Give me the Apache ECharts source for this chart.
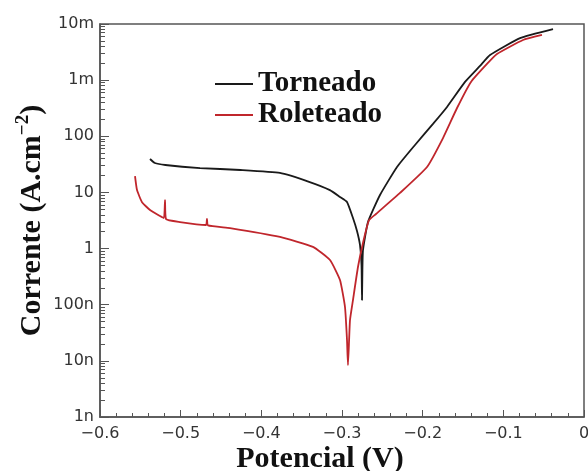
<!DOCTYPE html>
<html>
<head>
<meta charset="utf-8">
<script src="https://cdn.jsdelivr.net/npm/echarts@6/dist/echarts.min.js"></script>
<style>
  html, body { margin: 0; padding: 0; background: #fff; }
  #chart { width: 588px; height: 471px; }
</style>
</head>
<body>
<div id="chart"></div>
<script>
// potencial (V) e corrente (A.cm-2)
var torneadoV = [-0.538, -0.532, -0.519, -0.476, -0.426, -0.377, -0.340, -0.315, -0.3025, -0.2938, -0.2864, -0.2814,
    -0.2777, -0.2758, -0.2752, -0.2747, -0.274, -0.2678, -0.2529, -0.2318, -0.2095, -0.1872, -0.1698, -0.1475,
    -0.1289, -0.1165, -0.0793, -0.0384];
var torneadoI = [3.94e-5, 3.34e-5, 3.08e-5, 2.72e-5, 2.51e-5, 2.22e-5, 1.53e-5, 1.10e-5, 8.3e-6, 6.75e-6, 3.5e-6, 2.06e-6,
    1.16e-6, 5.1e-7, 1.21e-7, 4.15e-7, 9.4e-7, 2.97e-6, 9.0e-6, 2.84e-5, 7.0e-5, 1.66e-4, 3.33e-4, 9.3e-4,
    1.79e-3, 2.8e-3, 5.6e-3, 8.1e-3];

var roleteadoV = [-0.5566, -0.5541, -0.5479, -0.538, -0.5256, -0.5207, -0.5194, -0.5182, -0.5008, -0.4686, -0.4674,
    -0.4661, -0.4388, -0.3769, -0.336, -0.3149, -0.3025, -0.2963, -0.2938, -0.2926, -0.2901, -0.2864, -0.2802,
    -0.274, -0.2665, -0.2579, -0.2281, -0.1946, -0.1748, -0.1574, -0.1401, -0.1203, -0.1079, -0.0756, -0.0521];
var roleteadoI = [1.96e-5, 1.10e-5, 6.7e-6, 4.86e-6, 3.8e-6, 3.5e-6, 7.3e-6, 3.36e-6, 2.97e-6, 2.63e-6, 3.36e-6,
    2.58e-6, 2.32e-6, 1.61e-6, 1.07e-6, 6.25e-7, 2.75e-7, 9.1e-8, 2.35e-8, 8.4e-9, 5.3e-8, 1.21e-7, 4.7e-7,
    1.26e-6, 3.2e-6, 4.13e-6, 9.8e-6, 2.84e-5, 9.3e-5, 3.19e-4, 9.3e-4, 1.94e-3, 2.92e-3, 5.19e-3, 6.37e-3];

var seriesNames = ['Torneado', 'Roleteado'];
// rótulos do eixo y, de 1e-9 a 1e-2
var yTickLabels = ['1n', '10n', '100n', '1', '10', '100', '1m', '10m'];

var serif = 'Liberation Serif';
var sans = 'DejaVu Sans';

function toPoints(vs, is) {
    return vs.map(function (v, k) { return [v, Math.log10(is[k])]; });
}

// marcas menores do eixo log (2..9 em cada década)
var minorTicks = [];
for (var d = -9; d < -2; d++) {
    for (var m = 2; m <= 9; m++) minorTicks.push(d + Math.log10(m));
}

var chart = echarts.init(document.getElementById('chart'));
chart.setOption({
    animation: false,
    backgroundColor: '#fff',
    grid: {
        left: 100, right: 4, top: 24, bottom: 54,
        outerBoundsMode: 'none',
        show: true, borderColor: '#555', borderWidth: 1.5
    },
    legend: {
        data: seriesNames,
        orient: 'vertical',
        left: 210, top: 64,
        icon: 'rect',
        itemWidth: 38, itemHeight: 2,
        itemGap: 1,
        textStyle: { fontFamily: serif, fontWeight: 'bold', fontSize: 29, color: '#111', lineHeight: 30 }
    },
    xAxis: {
        type: 'value',
        min: -0.6, max: 0, interval: 0.1,
        name: 'Potencial (V)',
        nameLocation: 'middle',
        nameMoveOverlap: false,
        nameGap: 27,
        nameTextStyle: { fontFamily: serif, fontWeight: 'bold', fontSize: 30, color: '#111', padding: [0, 44, 0, 0] },
        axisLine: { onZero: false, lineStyle: { color: '#555', width: 1.5 } },
        axisTick: { inside: true, length: 7, lineStyle: { color: '#555' } },
        minorTick: { show: true, splitNumber: 5, length: 4, lineStyle: { color: '#555' } },
        splitLine: { show: false },
        axisLabel: {
            margin: 9, fontFamily: sans, fontSize: 16, color: '#333',
            formatter: function (v) { return v === 0 ? '0' : '\u2212' + Math.abs(v).toFixed(1); }
        }
    },
    yAxis: [{
        type: 'value',
        position: 'left',
        min: -9, max: -2, interval: 1,
        name: 'Corrente (A.cm{sup|\u22122})',
        nameLocation: 'middle',
        nameRotate: 90,
        nameMoveOverlap: false,
        nameGap: 50,
        nameTextStyle: {
            fontFamily: serif, fontWeight: 'bold', fontSize: 30, color: '#111',
            rich: { sup: { fontFamily: serif, fontWeight: 'bold', fontSize: 19, color: '#111', padding: [0, 0, 17, 0] } }
        },
        axisLine: { show: true, onZero: false, lineStyle: { color: '#555', width: 1.5 } },
        axisTick: { inside: true, length: 9, lineStyle: { color: '#555' } },
        splitLine: { show: false },
        axisLabel: {
            margin: 6, fontFamily: sans, fontSize: 16, color: '#333',
            formatter: function (v) { return yTickLabels[Math.round(v) + 9]; }
        }
    }, {
        type: 'value',
        position: 'left',
        offset: 0,
        min: -9, max: -2,
        axisLine: { show: false, onZero: false },
        axisLabel: { show: false },
        splitLine: { show: false },
        axisTick: { show: true, inside: true, length: 5, customValues: minorTicks, lineStyle: { color: '#555' } }
    }],
    series: [{
        name: seriesNames[0],
        type: 'line',
        showSymbol: false,
        smooth: 0.15,
        color: '#1a1a1a',
        lineStyle: { width: 1.8 },
        data: toPoints(torneadoV, torneadoI)
    }, {
        name: seriesNames[1],
        type: 'line',
        showSymbol: false,
        smooth: 0.15,
        color: '#c0262c',
        lineStyle: { width: 1.8 },
        data: toPoints(roleteadoV, roleteadoI)
    }]
});
</script>
</body>
</html>
